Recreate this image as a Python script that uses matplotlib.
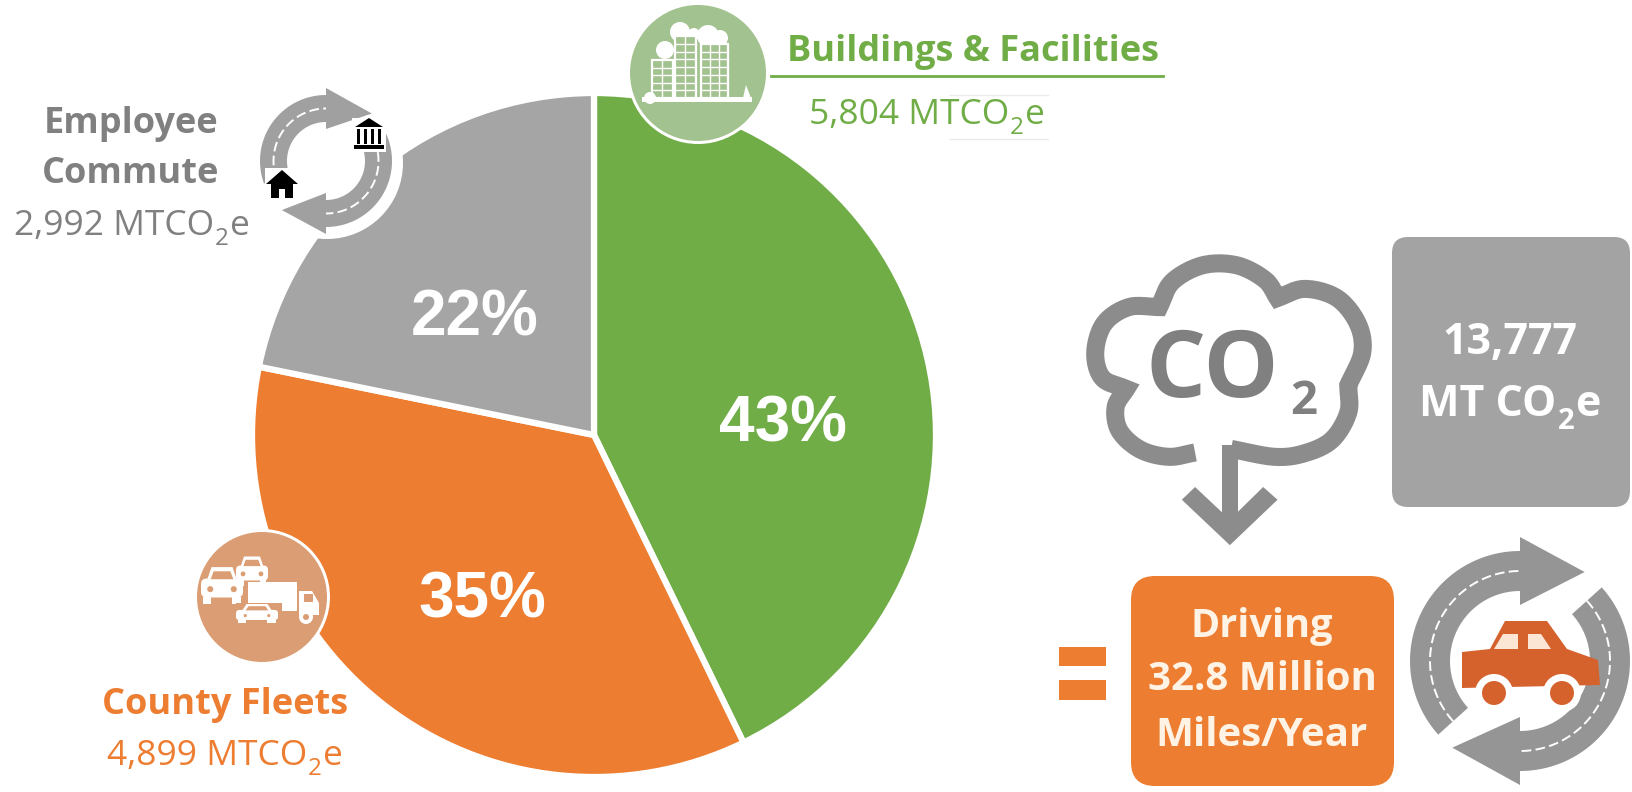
import numpy as np
import matplotlib
matplotlib.use("Agg")
import matplotlib.pyplot as plt
from matplotlib.patches import Circle, Polygon, Rectangle, FancyBboxPatch

W, H = 1633, 792
sectors = ["Buildings & Facilities", "County Fleets", "Employee Commute"]
shares = [42.8, 35.4, 21.8]
emissions = ["5,804", "4,899", "2,992"]
total_label = "13,777"
driving_label = "32.8 Million"
GREEN, ORANGE, GRAY = "#70AD47", "#ED7D31", "#A5A5A5"
slice_colors = [GREEN, ORANGE, GRAY]

FONT = "Open Sans"
fig = plt.figure(figsize=(W / 100, H / 100), dpi=100)
ax = fig.add_axes([0, 0, 1, 1])

CX, CY, R = 594, 435, 342
ax.pie(shares, colors=slice_colors, startangle=90, counterclock=False, radius=R,
       center=(CX, -CY), frame=False,
       wedgeprops=dict(edgecolor="white", linewidth=4.5))
ax.set_xlim(0, W)
ax.set_ylim(-H, 0)
ax.set_aspect("equal")
ax.axis("off")
renderer = fig.canvas.get_renderer()


def P(x, y):
    return (x, -y)


def txt(x, y, s, color, size, weight="normal", family=FONT, z=10):
    ax.text(x, -y, s, color=color, fontsize=size, fontweight=weight, family=family,
            ha="center", va="center", zorder=z)


def sub_txt(xc, y, before, sub, after, color, size, weight="normal", z=10):
    """Centred text with a lowered subscript, placed piece by piece on a common baseline."""
    kw = dict(color=color, fontweight=weight, family=FONT, ha="left", va="baseline", zorder=z)
    pieces = [(before, size, 0), (sub, size * 0.68, size * 0.42), (after, size, 0)]
    artists = [ax.text(0, 0, s, fontsize=fs, **kw) for s, fs, _ in pieces]
    widths = [a.get_window_extent(renderer).width for a in artists]
    x = xc - sum(widths) / 2 - 1
    base = y + size * 0.5
    for a, w, (_, _, drop) in zip(artists, widths, pieces):
        a.set_position((x, -(base + drop)))
        x += w + 1


def circle(x, y, r, fc, ec="none", lw=0, z=5):
    ax.add_patch(Circle(P(x, y), r, fc=fc, ec=ec, lw=lw, zorder=z))


def poly(pts, fc, z=6, ec="none", lw=0):
    ax.add_patch(Polygon([P(*p) for p in pts], closed=True, fc=fc, ec=ec, lw=lw, zorder=z))


def rect(x0, y0, x1, y1, fc, z=6, ec="none", lw=0):
    ax.add_patch(Rectangle((x0, -y1), x1 - x0, y1 - y0, fc=fc, ec=ec, lw=lw, zorder=z))


def pol(cx, cy, r, a):
    a = np.radians(a)
    return np.column_stack([cx + r * np.cos(a), cy - r * np.sin(a)])


def ring_arrow(cx, cy, ro, ri, a0, a1, tip, flare, color, z=6):
    """Arc running clockwise from a0 to a1, closed by an arrow head ending at angle tip."""
    a = np.linspace(a0, a1, 70)
    mid = (ro + ri) / 2
    pts = np.vstack([pol(cx, cy, ro, a), pol(cx, cy, ro + flare, [a1]),
                     pol(cx, cy, ro, [tip]), pol(cx, cy, ri - flare, [a1]),
                     pol(cx, cy, ri, a[::-1])])
    poly(pts, color, z)
    line = pol(cx, cy, mid, a)
    ax.plot(line[:, 0], -line[:, 1], color="white", lw=1.4, ls=(0, (5, 2.2)), zorder=z + 1)


# Percent labels
for (x, y), v in zip([(783, 425), (482, 601), (475, 318)], shares):
    txt(x, y, f"{v:.0f}%", "white", 46, "bold", "Liberation Sans")

# Green badge and labels
circle(698, 73, 71, "white", z=5)
circle(698, 73, 68, "#A2C28F", z=6)


def building(x0, y0, x1, y1, nx, ny):
    rect(x0, y0, x1, y1, "#A2C28F", z=7, ec="white", lw=1.6)
    for xx in np.linspace(x0, x1, nx + 1)[1:-1]:
        ax.plot([xx, xx], [-y0, -y1], color="white", lw=1, zorder=7)
    for yy in np.linspace(y0, y1, ny + 1)[1:-1]:
        ax.plot([x0, x1], [-yy, -yy], color="white", lw=1, zorder=7)


for x, y, r in [(665, 50, 9), (680, 32, 10), (708, 36, 11), (720, 38, 8), (694, 34, 6)]:
    circle(x, y, r, "white", z=6.5)
building(652, 60, 673, 98, 2, 5)
building(675, 36, 696, 98, 2, 8)
building(701, 44, 728, 98, 3, 7)
rect(642, 97, 752, 102, "white", z=7)
circle(650, 98, 6, "white", z=7)
poly([(743, 98), (746, 85), (751, 98)], "white", z=7)

txt(973, 52, sectors[0], "#70AD47", 26, "bold")
ax.plot([771, 1163], [-76, -76], color="#70AD47", lw=2, zorder=4)
sub_txt(927, 111, emissions[0] + " MTCO", "2", "e", "#70AD47", 25.5)
for y in (95, 139):
    ax.plot([950, 1048], [-y, -y], color="#EBEBEB", lw=1, zorder=3)

# Orange badge and labels
circle(262, 597, 68, "white", z=5)
circle(262, 597, 65, "#DB9D73", z=6)


def small_car(x, y, w, h, z=7):
    ax.add_patch(FancyBboxPatch((x - w / 2, -y - h / 4), w, h * 0.5,
                                boxstyle=f"round,pad=0,rounding_size={h*0.15}",
                                fc="white", ec="none", zorder=z))
    poly([(x - w * .36, y - h * .2), (x - w * .25, y - h * .55), (x + w * .25, y - h * .55),
          (x + w * .36, y - h * .2)], "white", z=z)
    poly([(x - w * .27, y - h * .23), (x - w * .2, y - h * .44), (x + w * .2, y - h * .44),
          (x + w * .27, y - h * .23)], "#DB9D73", z=z + .05)
    circle(x - w * .28, y + h * .03, h * .08, "#DB9D73", z=z + .05)
    circle(x + w * .28, y + h * .03, h * .08, "#DB9D73", z=z + .05)
    rect(x - w * .45, y + h * .24, x - w * .25, y + h * .42, "white", z=z)
    rect(x + w * .25, y + h * .24, x + w * .45, y + h * .42, "white", z=z)


small_car(252, 573, 32, 30, z=7)
rect(248, 582, 297, 611, "white", z=7.2)
poly([(299, 591), (312, 591), (319, 603), (319, 615), (299, 615)], "white", z=7.2)
rect(304, 594, 313, 602, "#DB9D73", z=7.3)
circle(306, 617, 7, "white", z=7.4)
circle(306, 617, 3, "#DB9D73", z=7.5)
small_car(222, 588, 42, 38, z=7.6)
rect(236, 603, 282, 625, "#DB9D73", z=7.65)
small_car(257, 615, 42, 20, z=7.7)

txt(225, 705, sectors[1], "#ED7D31", 26, "bold")
sub_txt(225, 752, emissions[1] + " MTCO", "2", "e", "#ED7D31", 25.5)

# Employee commute ring
RCX, RCY = 326, 161
circle(RCX + 1, RCY + 2, 76, "white", z=5)
ring_arrow(RCX, RCY, 66, 39, 200, 90, 46, 7, "#A0A0A0")
ring_arrow(RCX, RCY, 66, 39, 25, -90, -132, 7, "#A0A0A0")
# bank icon
rect(352, 118, 386, 152, "white", z=8)
poly([(355, 127), (369, 118), (383, 127)], "black", z=9)
for x in np.linspace(357, 378, 4):
    rect(x, 129, x + 3.5, 144, "black", z=9)
rect(354, 145, 384, 149, "black", z=9)
# house icon
rect(265, 168, 299, 202, "white", z=8)
poly([(266, 184), (282, 170), (298, 184)], "black", z=9)
rect(271, 183, 293, 198, "black", z=9)
rect(279, 189, 285, 198, "white", z=9.5)

txt(131, 124, "Employee", "#808080", 26, "bold")
txt(131, 174, "Commute", "#808080", 26, "bold")
sub_txt(132, 222, emissions[2] + " MTCO", "2", "e", "#808080", 25.5)


# Cloud, stroked lobe by lobe
def Zx(z):
    return 1040 + z / 2.644


def Zy(z):
    return 258 + (z - 105) * 0.3635


def spline(points, n=14):
    pts = np.array(points, float)
    p = np.vstack([2 * pts[0] - pts[1], pts, 2 * pts[-1] - pts[-2]])
    out = []
    for i in range(1, len(p) - 2):
        t = np.linspace(0, 1, n)[:, None]
        out.append(0.5 * (2 * p[i] + (p[i + 1] - p[i - 1]) * t
                          + (2 * p[i - 1] - 5 * p[i] + 4 * p[i + 1] - p[i + 2]) * t ** 2
                          + (3 * p[i] - p[i - 1] - 3 * p[i + 1] + p[i + 2]) * t ** 3))
    return np.vstack(out)


CLOUD = "#8C8C8C"
cloud_lobes = [
    [(410, 640), (340, 652), (265, 632), (210, 580), (200, 515), (228, 465)],
    [(228, 465), (165, 435), (146, 365), (170, 285), (235, 240), (315, 240)],
    [(315, 240), (350, 170), (430, 125), (520, 125), (595, 165), (628, 215)],
    [(628, 215), (700, 190), (785, 215), (840, 285), (852, 365), (815, 455)],
    [(815, 455), (815, 530), (772, 605), (700, 642), (620, 652), (505, 630)],
]
outline = np.vstack([spline(l) for l in cloud_lobes])
ax.plot(Zx(outline[:, 0]), -Zy(outline[:, 1]), color=CLOUD, lw=13, zorder=5,
        solid_joinstyle="miter", solid_capstyle="butt")
rect(Zx(480), Zy(620), Zx(523), Zy(860), CLOUD, z=5.3)
poly([(Zx(375), Zy(770)), (Zx(410), Zy(735)), (Zx(502), Zy(825)), (Zx(590), Zy(735)),
      (Zx(628), Zy(770)), (Zx(502), Zy(895))], CLOUD, z=5.3)
txt(1212, 372, "CO", "#808080", 68, "bold", z=6)
txt(1304, 402, "2", "#808080", 34, "bold", z=6)

# Total box
ax.add_patch(FancyBboxPatch((1392 + 14, -507 + 14), 238 - 28, 270 - 28,
                            boxstyle="round,pad=14,rounding_size=16", fc="#A3A3A3", ec="none", zorder=5))
txt(1510, 343, total_label, "white", 31, "bold", z=6)
sub_txt(1510, 400, "MT CO", "2", "e", "white", 31, "bold", z=6)

# Equals sign
rect(1059, 647, 1106, 666, "#ED7D31")
rect(1059, 680, 1106, 700, "#ED7D31")

# Driving box
ax.add_patch(FancyBboxPatch((1131 + 24, -786 + 24), 263 - 48, 210 - 48,
                            boxstyle="round,pad=24,rounding_size=24", fc="#ED7D31", ec="none", zorder=5))
txt(1262, 626, "Driving", "#FFF3E6", 28.5, "bold", z=6)
txt(1262, 680, driving_label, "#FFF3E6", 29, "bold", z=6)
txt(1262, 736, "Miles/Year", "#FFF3E6", 29, "bold", z=6)

# Driving ring with car
RX, RY = 1520, 661
ring_arrow(RX, RY, 110, 70, 222, 90, 54, 14, "#959595")
ring_arrow(RX, RY, 110, 70, 42, -90, -128, 14, "#959595")
CAR = "#D5622D"
poly([(1462, 652), (1490, 649), (1505, 621), (1547, 621), (1567, 649), (1598, 660),
      (1600, 685), (1462, 688)], CAR, z=8)
poly([(1494, 649), (1503, 634), (1518, 634), (1518, 649)], "#FBE6D6", z=9)
poly([(1528, 634), (1541, 634), (1551, 649), (1528, 649)], "#FBE6D6", z=9)
for x in (1494, 1562):
    circle(x, 693, 19, "white", z=9)
    circle(x, 693, 12, CAR, z=10)

fig.savefig("out.png", dpi=100, facecolor="white")
